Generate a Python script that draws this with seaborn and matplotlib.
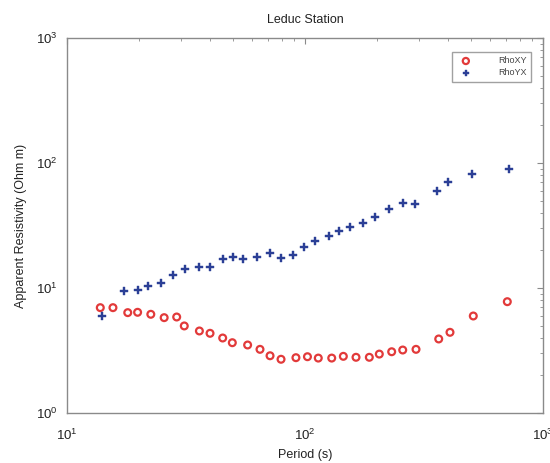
import matplotlib
matplotlib.use("Agg")
import matplotlib.pyplot as plt
import seaborn as sns
import pandas as pd

# Apparent resistivity sounding, Leduc station
period_xy = [13.8, 15.6, 18.0, 19.8, 22.5, 25.6, 28.9, 31.1, 36.0, 39.9, 45.1, 49.5,
             57.4, 64.7, 71.3, 79.3, 91.6, 102.4, 113.7, 129.5, 144.9, 163.8, 186.3,
             205.2, 231.3, 257.4, 292.7, 364.6, 406.6, 509.4, 707.9]
rho_xy = [6.96, 6.96, 6.35, 6.39, 6.16, 5.79, 5.86, 4.97, 4.53, 4.34, 3.98, 3.65,
          3.50, 3.23, 2.87, 2.69, 2.77, 2.82, 2.75, 2.75, 2.84, 2.79, 2.79,
          2.96, 3.09, 3.19, 3.23, 3.91, 4.42, 5.97, 7.77]

period_yx = [14.0, 17.4, 19.9, 22.0, 24.8, 27.9, 31.2, 36.0, 39.9, 45.1, 49.7, 54.7,
             62.7, 71.3, 79.0, 88.8, 99.2, 110.5, 126.5, 138.5, 154.6, 175.8, 197.4,
             225.4, 258.2, 289.9, 357.6, 400.0, 503.0, 721.8]
rho_yx = [6.00, 9.46, 9.64, 10.4, 10.9, 12.7, 14.1, 14.6, 14.8, 17.1, 17.8, 17.0,
          17.6, 19.2, 17.3, 18.3, 21.4, 23.9, 26.2, 28.7, 30.6, 33.3, 36.8,
          42.6, 48.1, 46.7, 59.4, 70.5, 81.2, 89.1]

labels = ["RhoXY", "RhoYX"]
title = "Leduc Station"
xlabel = "Period (s)"
ylabel = "Apparent Resistivity (Ohm m)"

df_xy = pd.DataFrame({"period": period_xy, "rho": rho_xy})
df_yx = pd.DataFrame({"period": period_yx, "rho": rho_yx})

sns.set_style("white")
plt.rcParams["font.family"] = ["Liberation Sans", "DejaVu Sans"]

red = "#e23a3a"
blue = "#2b3f96"
grey = "#8a8a8a"
text = "#222222"

fig = plt.figure(figsize=(5.5, 4.63), dpi=100)
ax = fig.add_axes([0.1218, 0.108, 0.8655, 0.810])

sns.scatterplot(data=df_xy, x="period", y="rho", ax=ax, marker="o", s=24,
                facecolors="none", edgecolor=red, linewidth=1.6, label=labels[0], zorder=3)
sns.scatterplot(data=df_yx, x="period", y="rho", ax=ax, marker="P", s=28,
                color=blue, edgecolor=blue, linewidth=0.3, label=labels[1], zorder=3)

ax.set_xscale("log")
ax.set_yscale("log")
ax.set_xlim(10, 1000)
ax.set_ylim(1, 1000)

ax.set_title(title, fontsize=9, color=text, pad=11)
ax.set_xlabel(xlabel, fontsize=9, color=text, labelpad=4)
ax.set_ylabel(ylabel, fontsize=9, color=text, labelpad=6)

for s in ax.spines.values():
    s.set_color(grey)
    s.set_linewidth(1.0)

ax.tick_params(which="both", direction="in", top=True, right=True,
               color=grey, labelcolor=text, labelsize=9.5)
ax.tick_params(which="major", length=4, width=0.8)
ax.tick_params(which="minor", length=2, width=0.6)
ax.tick_params(axis="x", which="major", pad=11)
ax.tick_params(axis="y", which="major", pad=7)

leg = ax.legend(loc="upper right", fontsize=6.5, frameon=True, fancybox=False,
                borderpad=0.5, handletextpad=2.6, labelspacing=0.3,
                bbox_to_anchor=(0.985, 0.975), markerscale=0.9)
leg.get_frame().set_edgecolor(grey)
leg.get_frame().set_linewidth(1.0)
for t in leg.get_texts():
    t.set_color("#444444")

fig.savefig("out.png", dpi=100)
